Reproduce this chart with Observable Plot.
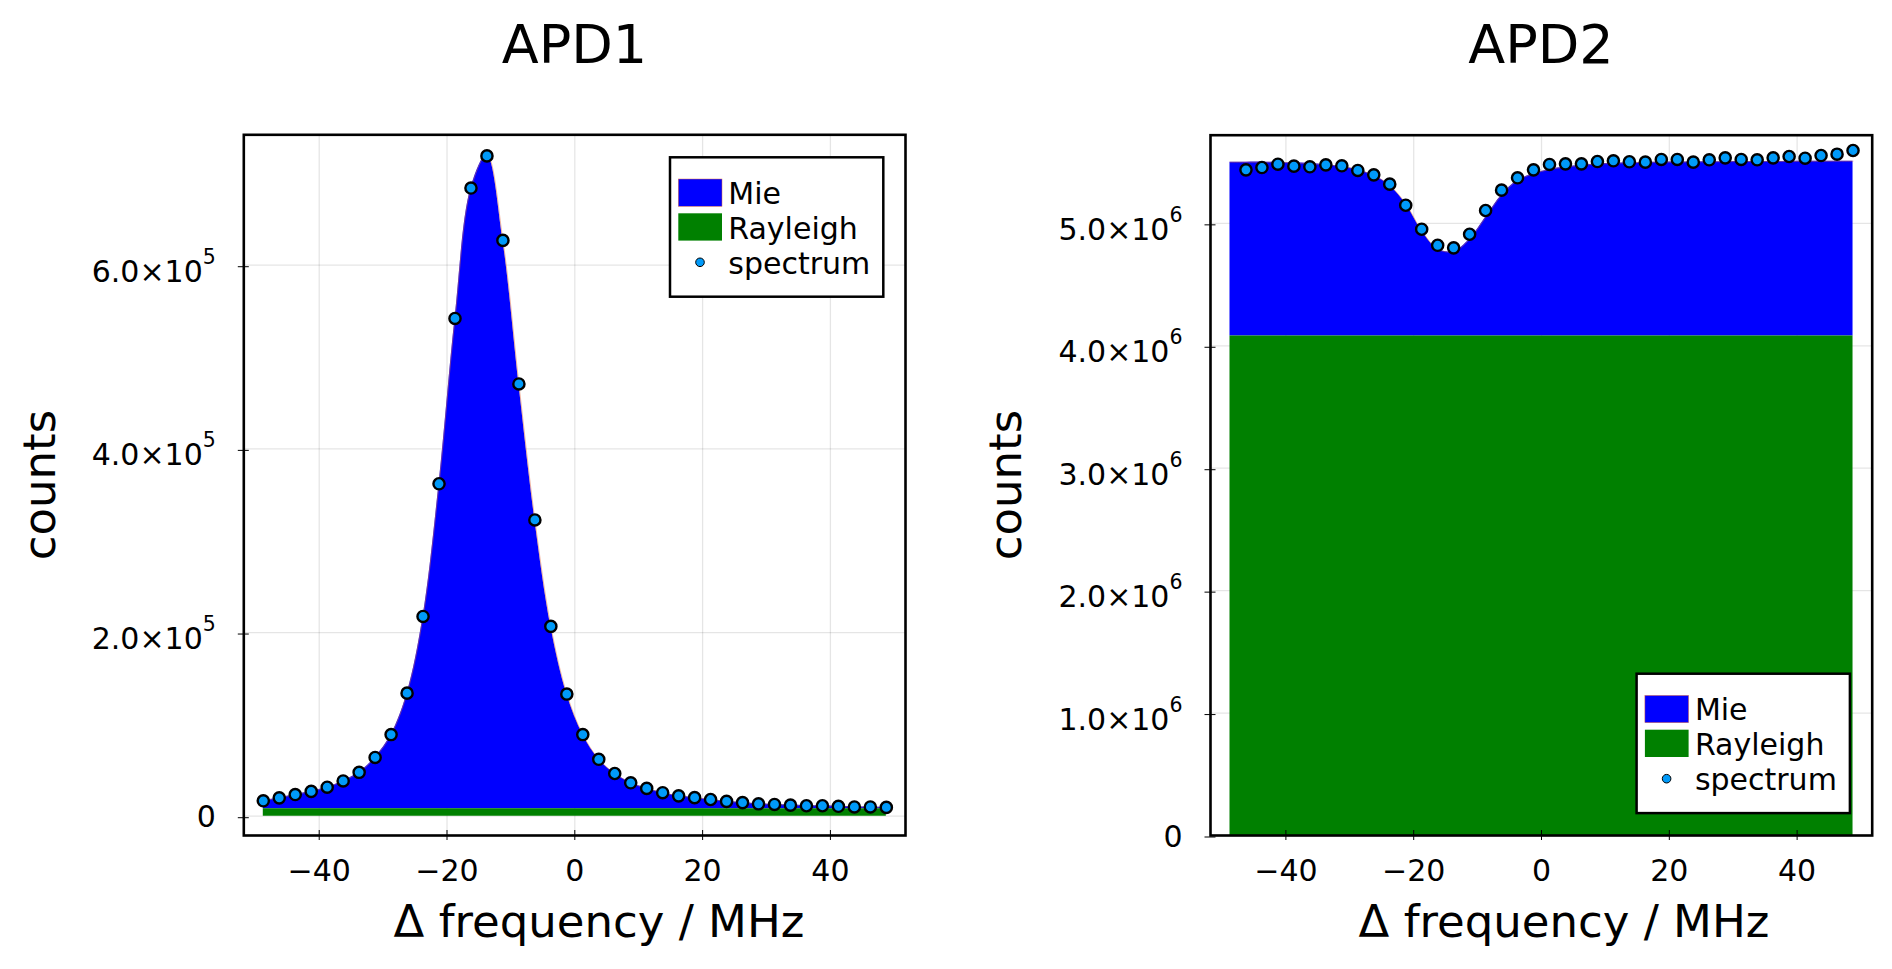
<!DOCTYPE html>
<html>
<head>
<meta charset="utf-8">
<script src="https://cdn.jsdelivr.net/npm/d3@7"></script>
<script src="https://cdn.jsdelivr.net/npm/@observablehq/plot@0.6"></script>
<style>
  html, body { margin: 0; padding: 0; background: #fff; }
  #wrap { position: relative; width: 1892px; height: 969px; overflow: hidden; font-family: "DejaVu Sans", sans-serif; }
  #wrap > svg { position: absolute; top: 0; }
</style>
</head>
<body>
<div id="wrap"></div>
<script>
// ---------- data ----------
// fit grid (MHz)
const fitFreq = [-48.75,-46.25,-43.75,-41.25,-38.75,-36.25,-33.75,-31.25,-28.75,-26.25,
  -23.75,-21.25,-18.75,-16.25,-13.75,-11.25,-8.75,-6.25,-3.75,-1.25,
  1.25,3.75,6.25,8.75,11.25,13.75,16.25,18.75,21.25,23.75,
  26.25,28.75,31.25,33.75,36.25,38.75,41.25,43.75,46.25,48.75];

// APD1
const spec1Freq = fitFreq;
const spec1 = [16800,20000,23600,27000,31600,38400,47800,64000,88900,134000,
  217500,362000,542000,684000,719000,627000,470700,322600,206700,133000,
  88900,62000,46500,36400,30300,25600,22200,20200,18200,16200,
  14800,13500,12800,12100,11400,11400,10800,10100,10100,9600];
const rayleigh1 = 8000;
const mie1 = [8800,12000,15600,19000,23600,30400,39800,56000,80900,126000,
  209500,354000,534000,676000,712000,619000,462700,314600,198700,125000,
  80900,54000,38500,28400,22300,17600,14200,12200,10200,8200,
  6800,5500,4800,4100,3400,3400,2800,2100,2100,1600];

// APD2
const spec2Freq = [-46.25,-43.75,-41.25,-38.75,-36.25,-33.75,-31.25,-28.75,-26.25,
  -23.75,-21.25,-18.75,-16.25,-13.75,-11.25,-8.75,-6.25,-3.75,-1.25,
  1.25,3.75,6.25,8.75,11.25,13.75,16.25,18.75,21.25,23.75,
  26.25,28.75,31.25,33.75,36.25,38.75,41.25,43.75,46.25,48.75];
const spec2 = [5437000,5456000,5483000,5467000,5462000,5478000,5470000,5432000,5396000,
  5320000,5148000,4952000,4821000,4800000,4911000,5105000,5271000,5372000,5437000,
  5481000,5486000,5486000,5505000,5511000,5503000,5500000,5522000,5522000,5500000,
  5519000,5535000,5522000,5519000,5535000,5546000,5532000,5554000,5565000,5595000];
const rayleigh2 = 4080000;
const mie2 = [1420000,1420000,1420000,1418000,1414000,1408000,1398000,1385000,1357000,1310000,
  1230000,1080000,860000,710000,690000,790000,970000,1150000,1270000,1325000,
  1360000,1380000,1395000,1405000,1410000,1415000,1418000,1420000,1421000,1422000,
  1423000,1424000,1425000,1425000,1426000,1426000,1427000,1427000,1428000,1428000];

const xTicks = [-40,-20,0,20,40];
const yTicks1 = [0,200000,400000,600000];
const yTicks2 = [0,1000000,2000000,3000000,4000000,5000000];

const legendLabels = ["Mie","Rayleigh","spectrum"];
const titles = ["APD1","APD2"];
const xLabel = "Δ frequency / MHz";
const yLabel = "counts";

// ---------- helpers ----------
const BLUE = "#0000ff", GREEN = "#008000", DOT = "#009af9";

function sciFormat(exp) {
  return d => d === 0 ? "0" : `${(d / Math.pow(10, exp)).toFixed(1)}×10^${exp}`;
}

function panel(opts) {
  const fit = fitFreq.map((f, i) => ({f, r: opts.rayleigh, top: opts.rayleigh + opts.mie[i]}));
  const pts = opts.specFreq.map((f, i) => ({f, v: opts.spec[i]}));
  const svg = Plot.plot({
    width: 946, height: 969,
    marginLeft: opts.ml, marginRight: opts.mr, marginTop: opts.mt, marginBottom: 134,
    style: {fontFamily: "DejaVu Sans", background: "transparent", color: "#000", overflow: "visible"},
    x: {domain: [-51.8, 51.75]},
    y: {domain: opts.ydomain},
    marks: [
      Plot.gridX(xTicks, {stroke: "#000", strokeOpacity: 0.1, strokeWidth: 1.3}),
      Plot.gridY(opts.yTicks, {stroke: "#000", strokeOpacity: 0.1, strokeWidth: 1.3}),
      Plot.areaY(fit, {x: "f", y1: "r", y2: "top", fill: BLUE, curve: "catmull-rom"}),
      Plot.line(fit, {x: "f", y: "top", stroke: "#e26f46", strokeWidth: 0.5, curve: "catmull-rom"}),
      Plot.areaY(fit, {x: "f", y1: 0, y2: "r", fill: GREEN}),
      Plot.dot(pts, {x: "f", y: "v", r: 5.6, fill: DOT, stroke: "#000", strokeWidth: 2.4}),
      Plot.frame({stroke: "#000", strokeWidth: 2.6}),
      Plot.axisX(xTicks, {tickSize: 10, dy: -5, tickPadding: 19, fontSize: 30, label: null}),
      Plot.axisY(opts.yTicks, {tickSize: 11, dx: 5.5, dy: 1.5, tickPadding: 22.5, fontSize: 30,
        label: null, tickFormat: sciFormat(opts.exp)})
    ]
  });
  // superscripts for the exponent
  svg.querySelectorAll('g[aria-label="y-axis tick label"] text').forEach(t => {
    const s = t.textContent;
    if (s.includes("^")) {
      const [base, e] = s.split("^");
      t.textContent = "";
      const ns = "http://www.w3.org/2000/svg";
      const a = document.createElementNS(ns, "tspan");
      a.setAttribute("dy", "5.5");
      a.textContent = base;
      const b = document.createElementNS(ns, "tspan");
      b.setAttribute("dy", "-18");
      b.setAttribute("font-size", "20.5");
      b.textContent = e;
      t.appendChild(a); t.appendChild(b);
    }
  });
  svg.style.left = opts.left + "px";
  return svg;
}

const wrap = document.getElementById("wrap");
wrap.appendChild(panel({left: 0, ml: 243.3, mr: 41, mt: 134.3, ydomain: [-21000, 742000],
  yTicks: yTicks1, exp: 5, rayleigh: rayleigh1, mie: mie1, specFreq: spec1Freq, spec: spec1}));
wrap.appendChild(panel({left: 946, ml: 264, mr: 20.3, mt: 134.7, ydomain: [0, 5720000],
  yTicks: yTicks2, exp: 6, rayleigh: rayleigh2, mie: mie2, specFreq: spec2Freq, spec: spec2}));

// ---------- overlay: titles, axis labels, legends ----------
const ov = d3.select(wrap).append("svg")
  .attr("width", 1892).attr("height", 969)
  .style("left", "0px").style("pointer-events", "none")
  .attr("font-family", "DejaVu Sans");

const layout = [
  {cx: 574.5, lx: 599, ly: 55, leg: [670, 157.3]},
  {cx: 1541, lx: 1564, ly: 1021, leg: [1636.6, 673.7]}
];
layout.forEach((L, i) => {
  ov.append("text").attr("x", L.cx).attr("y", 63).attr("text-anchor", "middle")
    .attr("font-size", 54).text(titles[i]);
  ov.append("text").attr("x", L.lx).attr("y", 936.7).attr("text-anchor", "middle")
    .attr("font-size", 45).text(xLabel);
  ov.append("text").attr("transform", `translate(${L.ly},485) rotate(-90)`)
    .attr("text-anchor", "middle").attr("font-size", 45).text(yLabel);
  const g = ov.append("g").attr("transform", `translate(${L.leg[0]},${L.leg[1]})`);
  g.append("rect").attr("width", 213.3).attr("height", 139.4).attr("fill", "#fff")
    .attr("stroke", "#000").attr("stroke-width", 2.5);
  g.append("rect").attr("x", 8.3).attr("y", 21.7).attr("width", 43.7).attr("height", 27.3)
    .attr("fill", BLUE).attr("stroke", "#e26f46").attr("stroke-width", 0.5);
  g.append("rect").attr("x", 8.3).attr("y", 56).attr("width", 43.7).attr("height", 27.3)
    .attr("fill", GREEN);
  g.append("circle").attr("cx", 30).attr("cy", 105).attr("r", 4.3)
    .attr("fill", DOT).attr("stroke", "#000").attr("stroke-width", 1);
  [46.7, 81.7, 116.3].forEach((by, k) => {
    g.append("text").attr("x", 58.3).attr("y", by).attr("font-size", 30).text(legendLabels[k]);
  });
});
</script>
</body>
</html>
